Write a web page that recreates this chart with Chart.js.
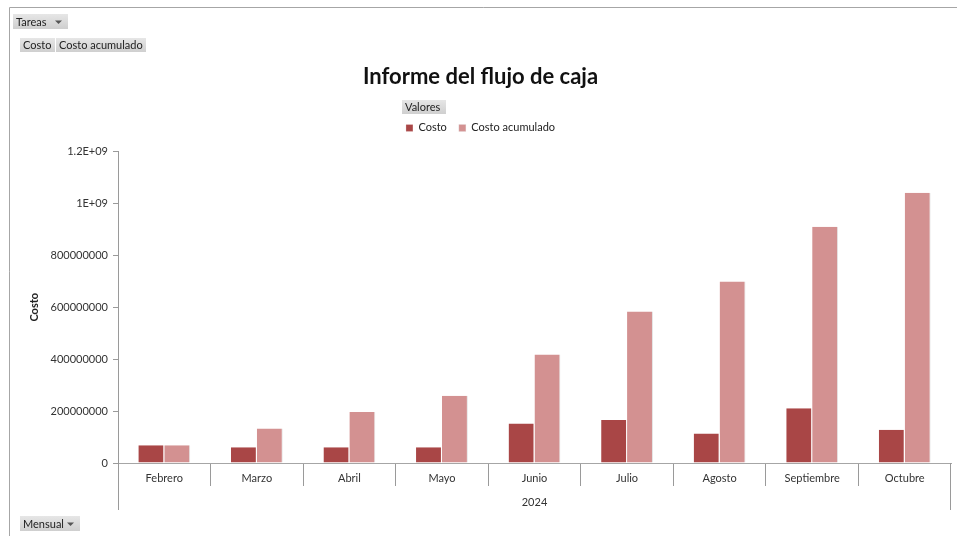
<!DOCTYPE html>
<html>
<head>
<meta charset="utf-8">
<script src="https://cdn.jsdelivr.net/npm/chart.js@4"></script>
<style>
    html, body { margin: 0; padding: 0; background: #fff; }
    #wrap { width: 957px; height: 536px; position: relative; }
</style>
</head>
<body>
<div id="wrap"><canvas id="flujoChart" width="957" height="536"></canvas></div>
<script>
        const meses = ['Febrero', 'Marzo', 'Abril', 'Mayo', 'Junio', 'Julio', 'Agosto', 'Septiembre', 'Octubre'];
        const costo = [68e6, 61e6, 61e6, 61e6, 152e6, 166e6, 114e6, 211e6, 128e6];
        const costoAcumulado = [68e6, 133e6, 196e6, 259e6, 418e6, 583e6, 699e6, 910e6, 1041e6];
        const yMax = 1.2e9;
        const yStep = 2e8;

        const fontFam = "Lato, 'Open Sans', sans-serif";

        function formatTick(v) {
            if (v >= 1e9) {
                const m = v / 1e9;
                return (Math.round(m * 10) / 10) + 'E+09';
            }
            return String(v);
        }

        function drawButton(ctx, x, y, w, h, text, arrow) {
            const g = ctx.createLinearGradient(0, y, 0, y + h);
            g.addColorStop(0, '#e6e6e6');
            g.addColorStop(1, '#cfcfcf');
            ctx.fillStyle = g;
            ctx.fillRect(x, y, w, h);
            ctx.fillStyle = '#222';
            ctx.font = '11px ' + fontFam;
            ctx.textBaseline = 'middle';
            ctx.textAlign = 'left';
            ctx.fillText(text, x + 3, y + h / 2 + 0.5);
            if (arrow) {
                const ax = x + w - 13;
                const ay = y + h / 2 - 1;
                ctx.fillStyle = '#555';
                ctx.beginPath();
                ctx.moveTo(ax, ay);
                ctx.lineTo(ax + 7, ay);
                ctx.lineTo(ax + 3.5, ay + 3.5);
                ctx.closePath();
                ctx.fill();
            }
        }

        const decorPlugin = {
            id: 'decor',
            beforeInit(chart) {
                // a bit more room under the legend
                const legend = chart.legend;
                if (legend) {
                    const fit = legend.fit;
                    legend.fit = function () {
                        fit.call(this);
                        this.height += 8;
                    };
                }
            },
            afterDraw(chart) {
                const ctx = chart.ctx;
                const xs = chart.scales.x;
                ctx.save();
                // frame lines
                ctx.strokeStyle = '#a6a6a6';
                ctx.lineWidth = 1;
                ctx.beginPath();
                ctx.moveTo(9.5, 536);
                ctx.lineTo(9.5, 7.5);
                ctx.lineTo(957, 7.5);
                ctx.stroke();
                // group level lines for 2024
                ctx.strokeStyle = '#9a9a9a';
                ctx.beginPath();
                ctx.moveTo(Math.round(xs.left) + 0.5, xs.top);
                ctx.lineTo(Math.round(xs.left) + 0.5, xs.top + 47);
                ctx.moveTo(Math.round(xs.right) - 0.5, xs.top);
                ctx.lineTo(Math.round(xs.right) - 0.5, xs.top + 47);
                ctx.stroke();
                // field buttons
                drawButton(ctx, 13, 14, 55, 15, 'Tareas', true);
                drawButton(ctx, 20, 38, 35, 14, 'Costo', false);
                drawButton(ctx, 56, 38, 90, 14, 'Costo acumulado', false);
                drawButton(ctx, 402, 100, 44, 14, 'Valores', false);
                drawButton(ctx, 20, 516, 60, 15, 'Mensual', true);
                ctx.restore();
            }
        };

        function buildChart() {
            const ctx = document.getElementById('flujoChart').getContext('2d');
            new Chart(ctx, {
                type: 'bar',
                data: {
                    labels: meses,
                    datasets: [
                        {
                            label: 'Costo',
                            data: costo,
                            backgroundColor: '#a94646',
                            borderColor: '#ffffff',
                            borderWidth: { left: 0, right: 1, top: 0, bottom: 0 }
                        },
                        {
                            label: 'Costo acumulado',
                            data: costoAcumulado,
                            backgroundColor: '#d39191',
                            borderColor: '#e4e4e4',
                            borderWidth: { left: 0, right: 1, top: 0, bottom: 0 }
                        }
                    ]
                },
                options: {
                    responsive: false,
                    animation: false,
                    layout: { padding: { left: 10, right: 6, top: 0, bottom: 0 } },
                    datasets: {
                        bar: { categoryPercentage: 0.56, barPercentage: 1.0 }
                    },
                    plugins: {
                        title: {
                            display: true,
                            text: 'Informe del flujo de caja',
                            color: '#111',
                            font: { family: fontFam, size: 22, weight: 'bold' },
                            padding: { top: 64, bottom: 20 }
                        },
                        legend: {
                            display: true,
                            position: 'top',
                            labels: {
                                color: '#222',
                                font: { family: fontFam, size: 11 },
                                boxWidth: 7,
                                boxHeight: 7,
                                padding: 12
                            }
                        },
                        tooltip: { enabled: false }
                    },
                    scales: {
                        x: {
                            grid: {
                                offset: true,
                                drawOnChartArea: false,
                                tickLength: 23,
                                color: '#9a9a9a'
                            },
                            border: { color: '#a6a6a6' },
                            ticks: {
                                color: '#333',
                                font: { family: fontFam, size: 11 },
                                padding: -14
                            },
                            title: {
                                display: true,
                                text: '2024',
                                color: '#333',
                                font: { family: fontFam, size: 11 },
                                padding: { top: 0, bottom: 27 }
                            },
                            afterFit(scale) { scale.height = 73; }
                        },
                        y: {
                            min: 0,
                            max: yMax,
                            ticks: {
                                stepSize: yStep,
                                color: '#333',
                                font: { family: fontFam, size: 11 },
                                padding: 5,
                                callback: v => formatTick(v)
                            },
                            grid: {
                                drawOnChartArea: false,
                                tickLength: 5,
                                color: '#9a9a9a'
                            },
                            border: { color: '#9a9a9a' },
                            title: {
                                display: true,
                                text: 'Costo',
                                color: '#222',
                                font: { family: fontFam, size: 11, weight: 'bold' },
                                padding: { top: 18, bottom: 0 }
                            },
                            afterFit(scale) { scale.width = 108; }
                        }
                    }
                },
                plugins: [decorPlugin]
            });
        }

        buildChart();
</script>
</body>
</html>
